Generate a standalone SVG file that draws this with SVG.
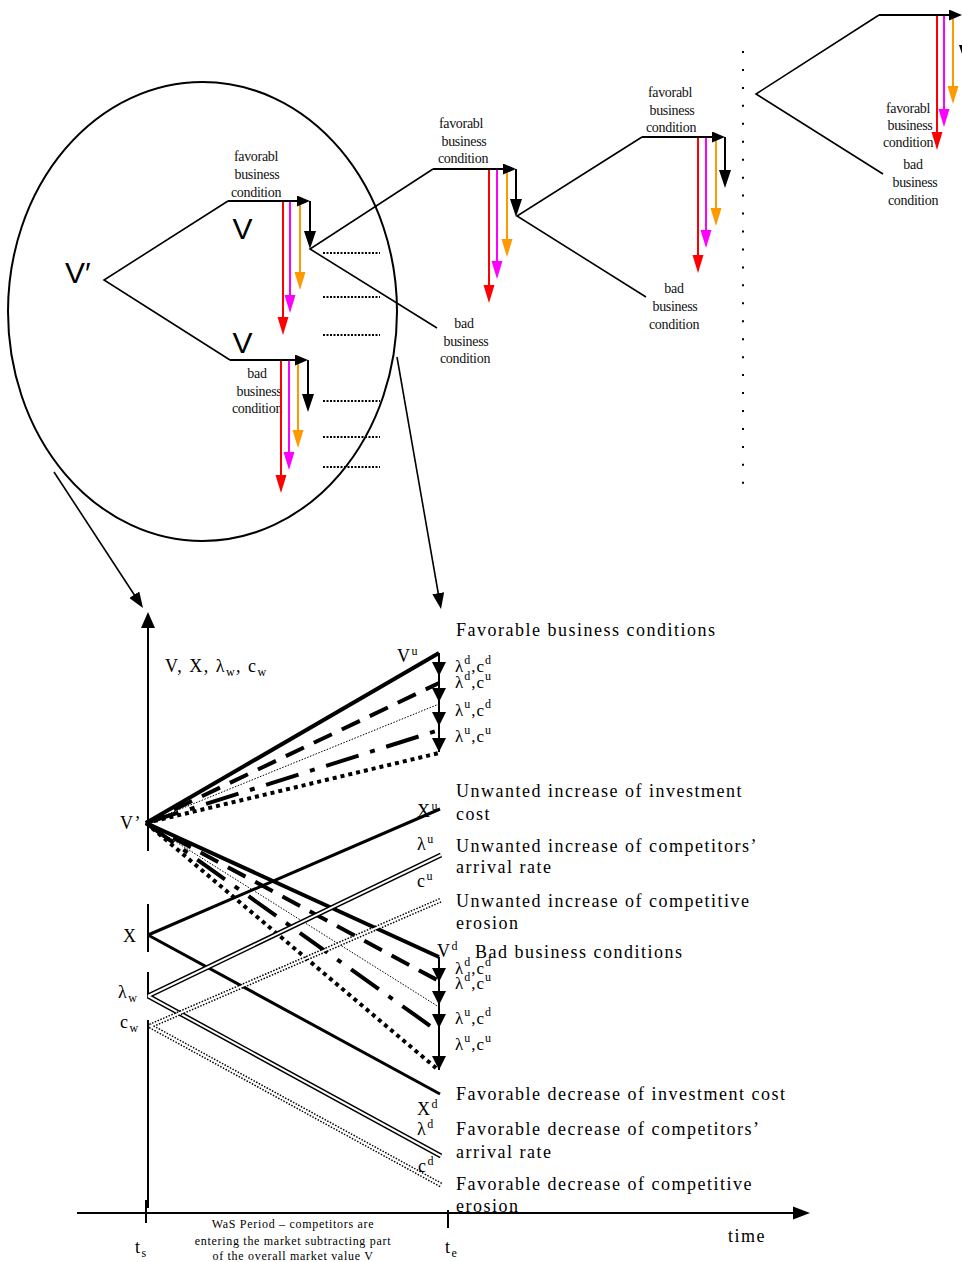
<svg xmlns="http://www.w3.org/2000/svg" width="962" height="1262" viewBox="0 0 962 1262">
<style>
  .bg { fill: #fff; }
  .ln { fill: none; stroke: #000; stroke-width: 1.6; }
  .red { fill: none; stroke: #f00; stroke-width: 2; }
  .mag { fill: none; stroke: #f0f; stroke-width: 2; }
  .org { fill: none; stroke: #f90; stroke-width: 2; }
  .blk { fill: none; stroke: #000; stroke-width: 2; }
  .dots { fill: none; stroke: #000; stroke-width: 2; stroke-dasharray: 2 1.5; }
  .cond { font-family: "Liberation Serif", "Times New Roman", serif; font-size: 14px; letter-spacing: -0.3px; text-anchor: middle; fill: #111; }
  .big { font-family: "Liberation Sans", Arial, sans-serif; font-size: 30px; fill: #000; }
  .lbl { font-family: "Liberation Serif", "Times New Roman", serif; font-size: 18px; letter-spacing: 1.5px; fill: #000; }
  .sym { font-family: "Liberation Serif", "Times New Roman", serif; font-size: 17px; letter-spacing: 1px; fill: #000; }
  .note { font-family: "Liberation Serif", "Times New Roman", serif; font-size: 12px; letter-spacing: 0.7px; text-anchor: middle; fill: #000; }
  .s { font-size: 12px; }
  .axis { fill: none; stroke: #000; stroke-width: 2; }
  .solid { fill: none; stroke: #000; stroke-width: 4; }
  .dash { fill: none; stroke: #000; stroke-width: 4; stroke-dasharray: 20 11; }
  .fine { fill: none; stroke: #000; stroke-width: 1; stroke-dasharray: 1.5 1.5; }
  .dashdot { fill: none; stroke: #000; stroke-width: 4; stroke-dasharray: 34 12 5 12; }
  .sq { fill: none; stroke: #000; stroke-width: 4; stroke-dasharray: 4 4; }
  .mid { fill: none; stroke: #000; stroke-width: 3; }
  .dblo { fill: none; stroke: #000; stroke-width: 5; }
  .dbli { fill: none; stroke: #fff; stroke-width: 2; }
  .dbldo { fill: none; stroke: #000; stroke-width: 5; stroke-dasharray: 1.5 1.5; }
</style>
<defs>
  <marker id="mRed" markerUnits="userSpaceOnUse" markerWidth="18" markerHeight="12" refX="14" refY="6" orient="auto"><path d="M0,0.5 L18,6 L0,11.5 z" fill="#f00"/></marker>
  <marker id="mMag" markerUnits="userSpaceOnUse" markerWidth="18" markerHeight="12" refX="14" refY="6" orient="auto"><path d="M0,0.5 L18,6 L0,11.5 z" fill="#f0f"/></marker>
  <marker id="mOrg" markerUnits="userSpaceOnUse" markerWidth="18" markerHeight="12" refX="14" refY="6" orient="auto"><path d="M0,0.5 L18,6 L0,11.5 z" fill="#f90"/></marker>
  <marker id="mBlk" markerUnits="userSpaceOnUse" markerWidth="18" markerHeight="12" refX="14" refY="6" orient="auto"><path d="M0,0 L18,6 L0,12 z" fill="#000"/></marker>
  <marker id="mBlkS" markerUnits="userSpaceOnUse" markerWidth="13" markerHeight="11" refX="10" refY="5.5" orient="auto"><path d="M0,0 L13,5.5 L0,11 z" fill="#000"/></marker>
  <marker id="mPtr" markerUnits="userSpaceOnUse" markerWidth="16" markerHeight="12" refX="12" refY="6" orient="auto"><path d="M0,0 L16,6 L0,12 z" fill="#000"/></marker>
</defs>
<rect class="bg" x="0" y="0" width="962" height="1262"/>

<!-- magnifier ellipse around the first two periods -->
<g id="zoom-circle">
  <ellipse cx="202.5" cy="311.5" rx="194.5" ry="229.5" fill="none" stroke="#000" stroke-width="2"/>
  <path class="dots" d="M323,253 H380 M323,297 H380 M323,335 H380 M323,401 H380 M323,437 H380 M323,467 H380"/>
</g>

<!-- branch connectors of the binomial tree -->
<g id="connectors">
  <path class="ln" d="M228,201 L104,280 L230,360"/>
  <path class="ln" d="M433,169 L310,249 L437,328"/>
  <path class="ln" d="M642,137 L517,216 L646,297"/>
  <path class="ln" d="M879,15 L756,94 L883,174"/>
  <path class="ln" d="M54,472 L140.8,604.7" stroke-width="2" marker-end="url(#mPtr)"/>
  <path class="ln" d="M397,357 L440.3,605" stroke-width="2" marker-end="url(#mPtr)"/>
  <line x1="743" y1="51" x2="743" y2="486" stroke="#000" stroke-width="2" stroke-dasharray="2 15.95"/>
</g>

<g id="node-root">
  <text class="big" x="65" y="283" font-size="29">V′</text>
</g>

<g id="node-1-up">
  <text class="big" x="242.5" y="239" text-anchor="middle">V</text>
  <text class="cond" x="256" y="161">favorabl</text>
  <text class="cond" x="257" y="179">business</text>
  <text class="cond" x="256" y="197">condition</text>
  <path class="red" d="M283,201 V331" marker-end="url(#mRed)"/>
  <path class="mag" d="M290,201 V309" marker-end="url(#mMag)"/>
  <path class="org" d="M300,201 V286" marker-end="url(#mOrg)"/>
  <path class="blk" d="M228,201 H307" marker-end="url(#mBlkS)"/>
  <path class="blk" d="M310,201 V245" marker-end="url(#mBlk)"/>
</g>

<g id="node-1-down">
  <text class="big" x="242.5" y="353" text-anchor="middle">V</text>
  <text class="cond" x="257" y="378">bad</text>
  <text class="cond" x="259" y="396">business</text>
  <text class="cond" x="257" y="413">condition</text>
  <path class="red" d="M281,360 V489" marker-end="url(#mRed)"/>
  <path class="mag" d="M289,360 V466" marker-end="url(#mMag)"/>
  <path class="org" d="M298,360 V444" marker-end="url(#mOrg)"/>
  <path class="blk" d="M230,360 H305" marker-end="url(#mBlkS)"/>
  <path class="blk" d="M308,360 V408" marker-end="url(#mBlk)"/>
</g>

<g id="node-2">
  <text class="cond" x="461" y="128">favorabl</text>
  <text class="cond" x="464" y="146">business</text>
  <text class="cond" x="463" y="163">condition</text>
  <text class="cond" x="464" y="328">bad</text>
  <text class="cond" x="466" y="346">business</text>
  <text class="cond" x="465" y="363">condition</text>
  <path class="red" d="M489,169 V299" marker-end="url(#mRed)"/>
  <path class="mag" d="M497,169 V275" marker-end="url(#mMag)"/>
  <path class="org" d="M507,169 V253" marker-end="url(#mOrg)"/>
  <path class="blk" d="M433,169 H513" marker-end="url(#mBlkS)"/>
  <path class="blk" d="M516,169 V213" marker-end="url(#mBlk)"/>
</g>

<g id="node-3">
  <text class="cond" x="670" y="97">favorabl</text>
  <text class="cond" x="672" y="115">business</text>
  <text class="cond" x="671" y="132">condition</text>
  <text class="cond" x="674" y="293">bad</text>
  <text class="cond" x="675" y="311">business</text>
  <text class="cond" x="674" y="329">condition</text>
  <path class="red" d="M698,137 V269" marker-end="url(#mRed)"/>
  <path class="mag" d="M706,137 V244" marker-end="url(#mMag)"/>
  <path class="org" d="M716,137 V222" marker-end="url(#mOrg)"/>
  <path class="blk" d="M642,137 H722" marker-end="url(#mBlkS)"/>
  <path class="blk" d="M725,137 V184" marker-end="url(#mBlk)"/>
</g>

<g id="node-4">
  <path class="red" d="M937,15 V146" marker-end="url(#mRed)"/>
  <path class="mag" d="M944,15 V123" marker-end="url(#mMag)"/>
  <path class="org" d="M953,15 V100" marker-end="url(#mOrg)"/>
  <path class="blk" d="M879,15 H959" marker-end="url(#mBlkS)"/>
  <path class="blk" d="M965,15 V59" marker-end="url(#mBlk)"/>
  <text class="cond" x="908" y="113">favorabl</text>
  <text class="cond" x="910" y="130">business</text>
  <text class="cond" x="908" y="147">condition</text>
  <text class="cond" x="913" y="169">bad</text>
  <text class="cond" x="915" y="187">business</text>
  <text class="cond" x="913" y="205">condition</text>
</g>

<!-- value / cost / arrival-rate / erosion chart over the WaS period -->
<g id="chart">
  <g id="axes">
    <path class="axis" d="M148,626 V851 M148,904 V952 M148,972 V998 M148,1020 V1208"/>
    <polygon points="148,612 141,628 155,628" fill="#000"/>
    <path class="axis" d="M77,1213 H795"/>
    <polygon points="810,1213 793,1206.5 793,1219.5" fill="#000"/>
    <path class="axis" d="M146,1200 V1223 M448,1210 V1228"/>
  </g>

  <g id="value-up">
    <path class="solid" d="M146,823 L439,653"/>
    <path class="dash" d="M146,823 L439,683"/>
    <path class="fine" d="M146,823 L439,704"/>
    <path class="dashdot" d="M146,823 L439,730"/>
    <path class="sq" d="M146,823 L439,753"/>
    <path class="axis" d="M439,653 V752"/>
    <polygon points="439,676 432,662 446,662" fill="#000"/>
    <polygon points="439,702 432,688 446,688" fill="#000"/>
    <polygon points="439,726 432,712 446,712" fill="#000"/>
    <polygon points="439,752 432,738 446,738" fill="#000"/>
  </g>

  <g id="value-down">
    <path class="solid" d="M146,823 L439,957"/>
    <path class="dash" d="M146,823 L439,981"/>
    <path class="fine" d="M146,823 L439,1007"/>
    <path class="dashdot" d="M146,823 L436,1030"/>
    <path class="sq" d="M146,823 L436,1068"/>
    <path class="axis" d="M439,957 V1070"/>
    <polygon points="439,982 432,968 446,968" fill="#000"/>
    <polygon points="439,1005 432,991 446,991" fill="#000"/>
    <polygon points="439,1028 432,1014 446,1014" fill="#000"/>
    <polygon points="439,1070 432,1056 446,1056" fill="#000"/>
  </g>

  <g id="cost-lines">
    <path class="mid" d="M148,935 L440,809"/>
    <path class="mid" d="M148,935 L440,1094"/>
  </g>

  <g id="arrival-lines">
    <path class="dblo" d="M148,996 L441,855 M148,996 L441,1156"/>
    <path class="dbli" d="M148,996 L441,855 M148,996 L441,1156"/>
  </g>

  <g id="erosion-lines">
    <path class="dbldo" d="M150,1026 L441,900 M150,1026 L441,1185"/>
    <path class="dbli" d="M150,1026 L441,900 M150,1026 L441,1185"/>
  </g>

  <g id="chart-labels">
    <text class="lbl" x="165" y="672">V, X, λ<tspan class="s" dy="4">w</tspan><tspan dy="-4">, c</tspan><tspan class="s" dy="4">w</tspan></text>
    <text class="lbl" x="120" y="829">V’</text>
    <text class="lbl" x="123" y="942">X</text>
    <text class="lbl" x="118" y="998">λ<tspan class="s" dy="4">w</tspan></text>
    <text class="lbl" x="120" y="1028">c<tspan class="s" dy="4">w</tspan></text>

    <text class="lbl" x="397" y="662" letter-spacing="0">V<tspan class="s" dy="-7">u</tspan></text>
    <text class="lbl" x="417" y="817" letter-spacing="0">X<tspan class="s" dy="-7">u</tspan></text>
    <text class="lbl" x="417" y="850" letter-spacing="0">λ<tspan class="s" dy="-7">u</tspan></text>
    <text class="lbl" x="417" y="887" letter-spacing="0">c<tspan class="s" dy="-7">u</tspan></text>
    <text class="lbl" x="437" y="957" letter-spacing="0">V<tspan class="s" dy="-7">d</tspan></text>
    <text class="lbl" x="417" y="1115" letter-spacing="0">X<tspan class="s" dy="-7">d</tspan></text>
    <text class="lbl" x="417" y="1135" letter-spacing="0">λ<tspan class="s" dy="-7">d</tspan></text>
    <text class="lbl" x="418" y="1172" letter-spacing="0">c<tspan class="s" dy="-7">d</tspan></text>

    <text class="sym" x="455" y="672">λ<tspan class="s" dy="-8">d</tspan><tspan dy="8">,c</tspan><tspan class="s" dy="-8">d</tspan></text>
    <text class="sym" x="455" y="688">λ<tspan class="s" dy="-8">d</tspan><tspan dy="8">,c</tspan><tspan class="s" dy="-8">u</tspan></text>
    <text class="sym" x="455" y="716">λ<tspan class="s" dy="-8">u</tspan><tspan dy="8">,c</tspan><tspan class="s" dy="-8">d</tspan></text>
    <text class="sym" x="455" y="742">λ<tspan class="s" dy="-8">u</tspan><tspan dy="8">,c</tspan><tspan class="s" dy="-8">u</tspan></text>

    <text class="sym" x="455" y="974">λ<tspan class="s" dy="-8">d</tspan><tspan dy="8">,c</tspan><tspan class="s" dy="-8">d</tspan></text>
    <text class="sym" x="455" y="989">λ<tspan class="s" dy="-8">d</tspan><tspan dy="8">,c</tspan><tspan class="s" dy="-8">u</tspan></text>
    <text class="sym" x="455" y="1024">λ<tspan class="s" dy="-8">u</tspan><tspan dy="8">,c</tspan><tspan class="s" dy="-8">d</tspan></text>
    <text class="sym" x="455" y="1050">λ<tspan class="s" dy="-8">u</tspan><tspan dy="8">,c</tspan><tspan class="s" dy="-8">u</tspan></text>
  </g>

  <g id="scenario-labels">
    <text class="lbl" x="456" y="636">Favorable business conditions</text>
    <text class="lbl" x="456" y="797">Unwanted increase of investment</text>
    <text class="lbl" x="456" y="820">cost</text>
    <text class="lbl" x="456" y="852">Unwanted increase of competitors’</text>
    <text class="lbl" x="456" y="873">arrival rate</text>
    <text class="lbl" x="456" y="907">Unwanted increase of competitive</text>
    <text class="lbl" x="456" y="929">erosion</text>
    <text class="lbl" x="475" y="958">Bad business conditions</text>
    <text class="lbl" x="456" y="1100">Favorable decrease of investment cost</text>
    <text class="lbl" x="456" y="1135">Favorable decrease of competitors’</text>
    <text class="lbl" x="456" y="1158">arrival rate</text>
    <text class="lbl" x="456" y="1190">Favorable decrease of competitive</text>
    <text class="lbl" x="456" y="1212">erosion</text>
  </g>

  <g id="time-labels">
    <text class="lbl" x="728" y="1242">time</text>
    <text class="lbl" x="135" y="1253" letter-spacing="0">t<tspan class="s" dy="4">s</tspan></text>
    <text class="lbl" x="445" y="1253" letter-spacing="0">t<tspan class="s" dy="4">e</tspan></text>
    <text class="note" x="293" y="1228">WaS Period – competitors are</text>
    <text class="note" x="293" y="1245">entering the market subtracting part</text>
    <text class="note" x="293" y="1260">of the overall market value V</text>
  </g>
</g>
</svg>
